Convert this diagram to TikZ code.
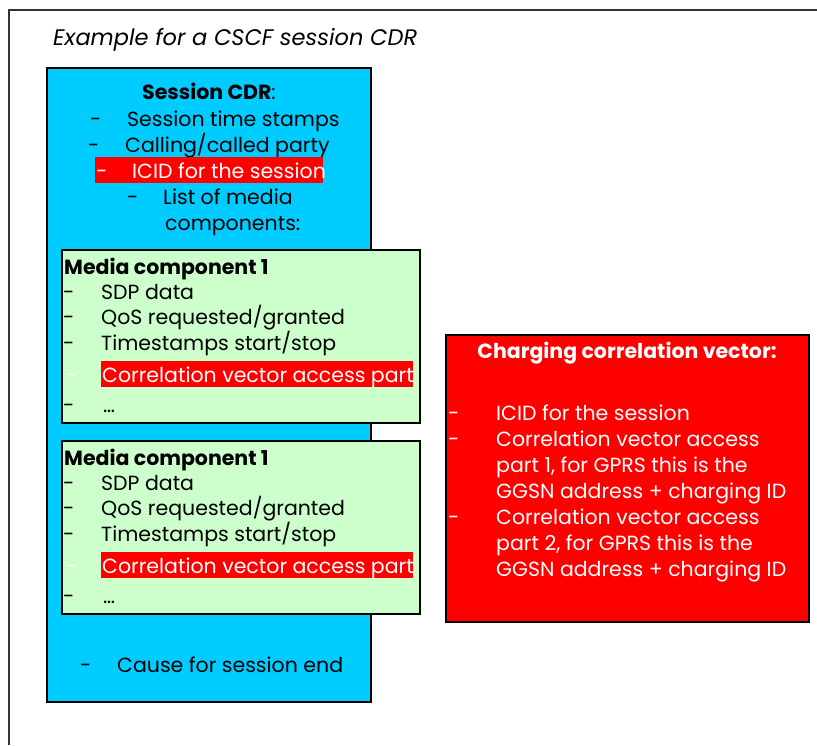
\documentclass[tikz,border=0pt]{standalone}
\usepackage{fontspec}
\setmainfont{Poppins}
\definecolor{cdrblue}{HTML}{00CCFF}
\definecolor{mcgreen}{HTML}{CCFFCC}
\definecolor{cvred}{HTML}{FF0000}
\definecolor{framegray}{HTML}{333333}
\begin{document}
\begin{tikzpicture}[x=1pt,y=-1pt,
  txt/.style={anchor=base west,inner sep=0pt,font=\fontsize{20.5}{25}\selectfont},
  wtxt/.style={txt,text=white},
  btxt/.style={txt,font=\fontsize{20.5}{25}\selectfont\bfseries},
  boxline/.style={draw=black,line width=1.5pt},
  hilite/.style={fill=cvred}]
\useasboundingbox (0,0) rectangle (817,745);
\draw[line width=2pt,framegray] (817,10) -- (9,10) -- (9,745);
\node[txt,font=\fontsize{22.5}{27}\selectfont\itshape] (title) at (53,45) {Example for a CSCF session CDR};
% Session CDR box
\path[boxline,fill=cdrblue] (47,68) rectangle (371,702);
\node[txt,anchor=base] (sh) at (209,99) {\textbf{Session CDR}:};
\node[txt] (sd1) at (90,126) {-};
\node[txt] (s1) at (127,126) {Session time stamps};
\node[txt] (sd2) at (88,152) {-};
\node[txt] (s2) at (125,152) {Calling/called party};
\path[hilite] (95,157) rectangle (323,183);
\node[wtxt] (sd3) at (96,178) {-};
\node[wtxt] (s3) at (132,178) {ICID for the session};
\node[txt] (sd4) at (127,204) {-};
\node[txt] (s4) at (163,204) {List of media};
\node[txt] (s5) at (165,230) {components:};
\node[txt] (sd6) at (80,672) {-};
\node[txt] (s6) at (117,672) {Cause for session end};
% Media component boxes
\foreach \dy/\nm in {0/a,191/b}{
  \begin{scope}[yshift=-\dy pt]
  \path[boxline,fill=mcgreen,line width=1.2pt] (62,250) rectangle (420,423);
  \node[btxt] (mh\nm) at (64,274) {Media component 1};
  \node[txt] (md1\nm) at (63,299) {-};
  \node[txt] (m1\nm) at (101,299) {SDP data};
  \node[txt] (md2\nm) at (63,324) {-};
  \node[txt] (m2\nm) at (101,324) {QoS requested/granted};
  \node[txt] (md3\nm) at (63,350) {-};
  \node[txt] (m3\nm) at (101,350) {Timestamps start/stop};
  \path[hilite] (101,361) rectangle (413,387);
  \node[txt,text=white!85!mcgreen] (md4\nm) at (66,382) {-};
  \node[wtxt] (m4\nm) at (102,382) {Correlation vector access part};
  \node[txt] (md5\nm) at (63,412) {-};
  \node[txt] (m5\nm) at (103,412) {\dots};
  \end{scope}
}
% Charging correlation vector
\path[boxline,fill=cvred] (446,335) rectangle (809,622);
\node[btxt,text=white,anchor=base] (ch) at (627,358) {Charging correlation vector:};
\node[wtxt] (cd1) at (448,420) {-};
\node[wtxt] (c1) at (496,420) {ICID for the session};
\node[wtxt] (cd2) at (448,446) {-};
\node[wtxt] (c2a) at (496,446) {Correlation vector access};
\node[wtxt] (c2b) at (496,472) {part 1, for GPRS this is the};
\node[wtxt] (c2c) at (496,498) {GGSN address + charging ID};
\node[wtxt] (cd3) at (448,524) {-};
\node[wtxt] (c3a) at (496,524) {Correlation vector access};
\node[wtxt] (c3b) at (496,550) {part 2, for GPRS this is the};
\node[wtxt] (c3c) at (496,576) {GGSN address + charging ID};
\end{tikzpicture}
\end{document}
